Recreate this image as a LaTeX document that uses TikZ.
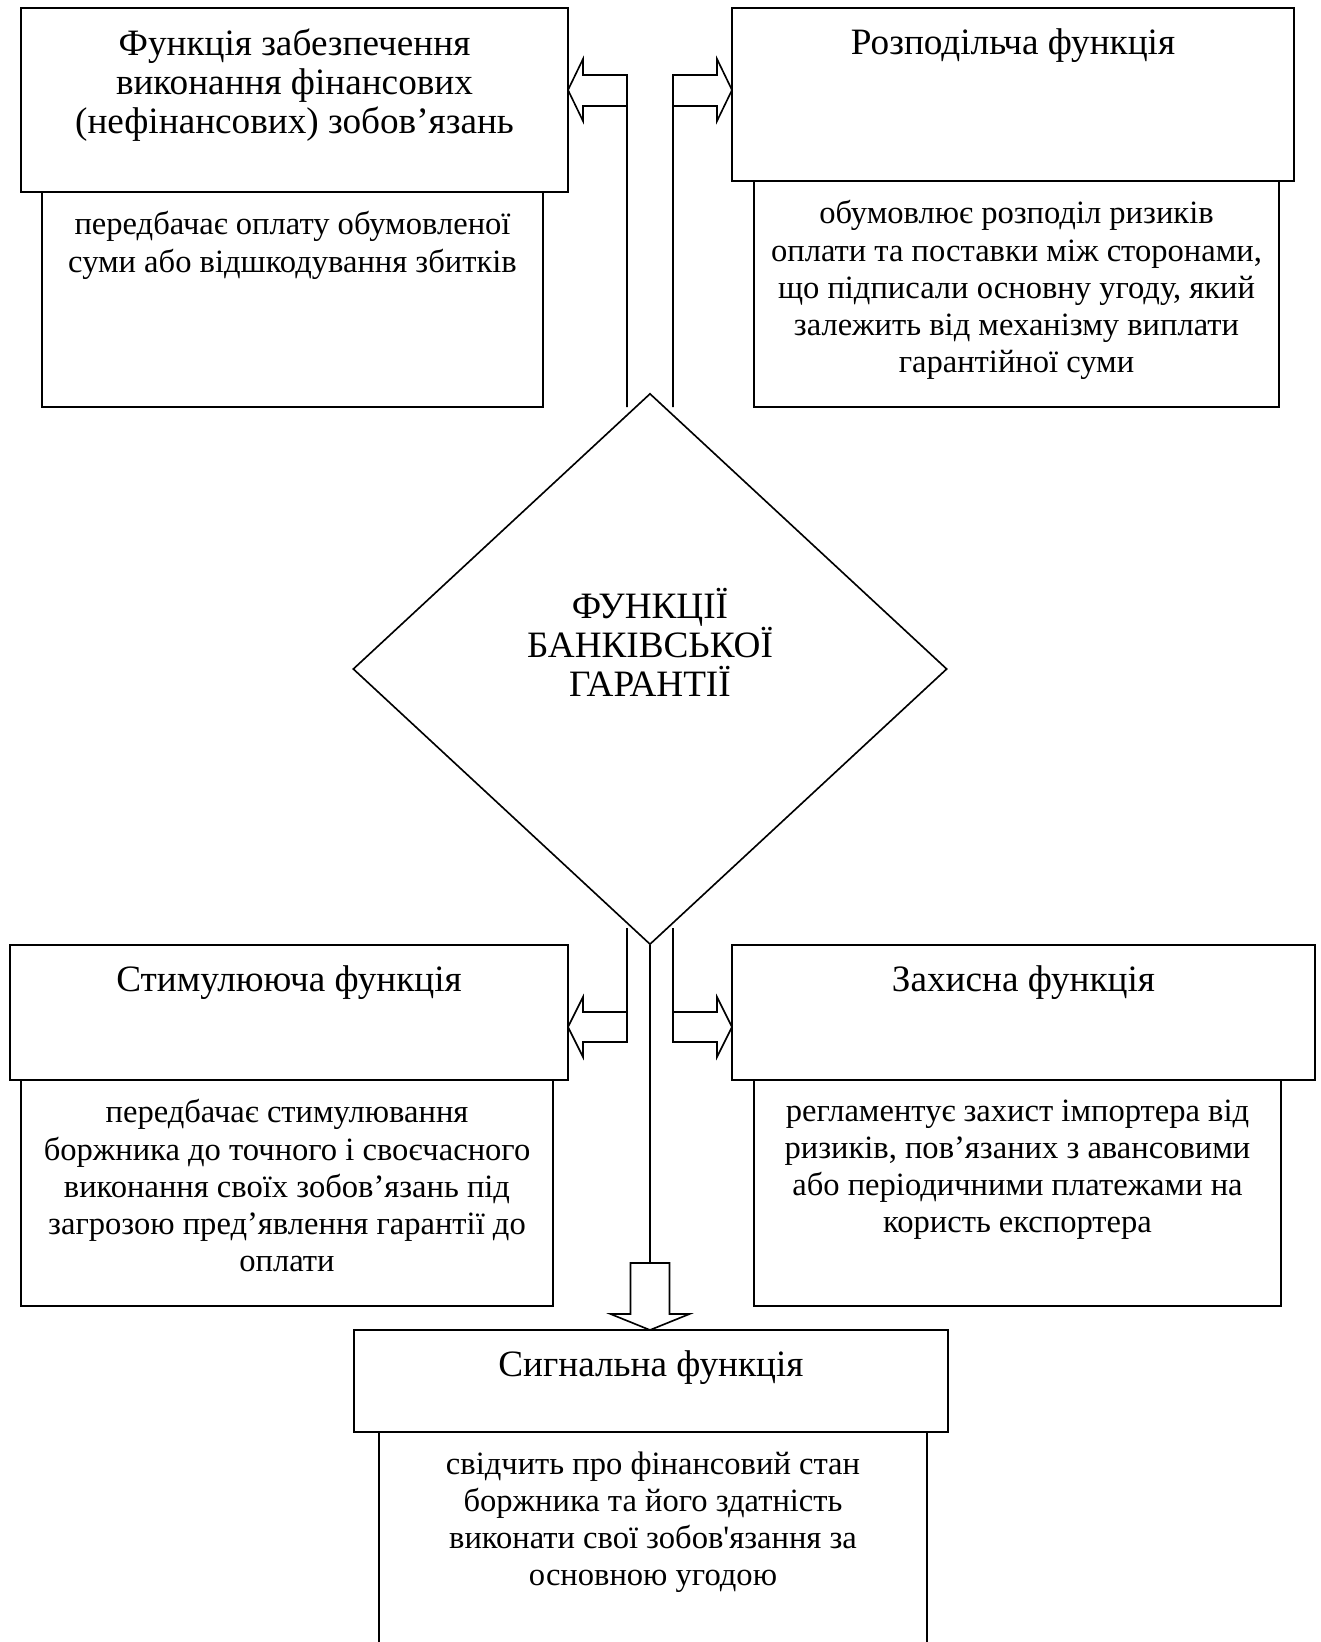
\documentclass[tikz,border=0pt]{standalone}
\usepackage{fontspec}
\setmainfont{Liberation Serif}
\usetikzlibrary{shapes.geometric,positioning}
\newdimen\px \px=0.43pt

\tikzset{
  titlebox/.style={draw, line width=0.8pt, fill=white, inner sep=0pt},
  descbox/.style={draw, line width=0.8pt, inner sep=0pt},
  ttltext/.style={align=center, inner sep=0pt, font=\fontsize{16}{16.8}\selectfont},
  desctext/.style={align=center, inner sep=0pt, font=\fontsize{14}{16}\selectfont},
  blockarrow/.style={draw, line width=0.7pt, line join=miter},
}

\begin{document}
\begin{tikzpicture}[x=0.43pt, y=-0.43pt]
        \path[use as bounding box, clip] (0,0) rectangle (1320,1642);

        % description boxes
        \node (d1) [descbox, minimum width=501\px, minimum height=215\px] at (292.5, 299.5) {};
        \node (d2) [descbox, minimum width=525\px, minimum height=226\px] at (1016.5, 294) {};
        \node (d3) [descbox, minimum width=532\px, minimum height=226\px] at (287, 1193) {};
        \node (d4) [descbox, minimum width=527\px, minimum height=226\px] at (1017.5, 1193) {};
        \node (d5) [descbox, minimum width=548\px, minimum height=268\px] at (653, 1566) {};

        % title boxes
        \node (b1) [titlebox, minimum width=547\px, minimum height=184\px] at (294.5, 100) {};
        \node (b2) [titlebox, minimum width=562\px, minimum height=173\px] at (1013, 94.5) {};
        \node (b3) [titlebox, minimum width=558\px, minimum height=135\px] at (289, 1012.5) {};
        \node (b4) [titlebox, minimum width=583\px, minimum height=135\px] at (1023.5, 1012.5) {};
        \node (b5) [titlebox, minimum width=594\px, minimum height=102\px] at (651, 1381) {};

        \node (dia) [diamond, draw, line width=0.7pt, inner sep=0pt, minimum width=594\px, minimum height=551\px] at (650, 669) {};

        % texts
        \node (t1) [ttltext, anchor=north] at ([yshift=-21\px]b1.north) {Функція забезпечення\\виконання фінансових\\(нефінансових) зобов’язань};
        \node (t2) [ttltext, anchor=north] at ([yshift=-21\px]b2.north) {Розподільча функція};
        \node (t3) [ttltext, anchor=north] at ([yshift=-21\px]b3.north) {Стимулююча функція};
        \node (t4) [ttltext, anchor=north] at ([yshift=-21\px]b4.north) {Захисна функція};
        \node (t5) [ttltext, anchor=north] at ([yshift=-21\px]b5.north) {Сигнальна функція};
        \node (tdia) [ttltext] at (650, 642) {ФУНКЦІЇ\\БАНКІВСЬКОЇ\\ГАРАНТІЇ};

        \node (s1) [desctext, anchor=north] at ([yshift=-20\px]d1.north) {передбачає оплату обумовленої\\суми або відшкодування збитків};
        \node (s2) [desctext, anchor=north] at ([yshift=-20\px]d2.north) {обумовлює розподіл ризиків\\оплати та поставки між сторонами,\\що підписали основну угоду, який\\залежить від механізму виплати\\гарантійної суми};
        \node (s3) [desctext, anchor=north] at ([yshift=-20\px]d3.north) {передбачає стимулювання\\боржника до точного і своєчасного\\виконання своїх зобов’язань під\\загрозою пред’явлення гарантії до\\оплати};
        \node (s4) [desctext, anchor=north] at ([yshift=-20\px]d4.north) {регламентує захист імпортера від\\ризиків, пов’язаних з авансовими\\або періодичними платежами на\\користь експортера};
        \node (s5) [desctext, anchor=north] at ([yshift=-20\px]d5.north) {свідчить про фінансовий стан\\боржника та його здатність\\виконати свої зобов\textquotesingle язання за\\основною угодою};

        % connectors
        \coordinate (ltop) at (627, 75);
        \coordinate (llow) at (627, 407);
        \coordinate (rtop) at (673, 75);
        \coordinate (rlow) at (673, 407);
        \coordinate (lbtop) at (627, 928);
        \coordinate (lblow) at (627, 1042);
        \coordinate (rbtop) at (673, 928);
        \coordinate (rblow) at (673, 1042);
        \coordinate (mid) at (650, 1263);

        \draw[blockarrow] (llow) -- (ltop) -- ++(-44,0) -- ++(0,-16) -- ++(-15,31) -- ++(15,31) -- ++(0,-15) -- ++(44,0);
        \draw[blockarrow] (rlow) -- (rtop) -- ++(44,0) -- ++(0,-16) -- ++(15,31) -- ++(-15,31) -- ++(0,-15) -- ++(-44,0);
        \draw[blockarrow] (lbtop) -- (lblow) -- ++(-44,0) -- ++(0,15) -- ++(-15,-30) -- ++(15,-30) -- ++(0,15) -- ++(44,0);
        \draw[blockarrow] (rbtop) -- (rblow) -- ++(44,0) -- ++(0,15) -- ++(15,-30) -- ++(-15,-30) -- ++(0,15) -- ++(-44,0);
        \draw[line width=0.7pt] (dia.south) -- (mid);
        \draw[blockarrow] (mid) -- ++(19.5,0) -- ++(0,51) -- ++(20,0) -- ++(-39.5,16) -- ++(-39.5,-16) -- ++(20,0) -- ++(0,-51) -- cycle;
\end{tikzpicture}
\end{document}
